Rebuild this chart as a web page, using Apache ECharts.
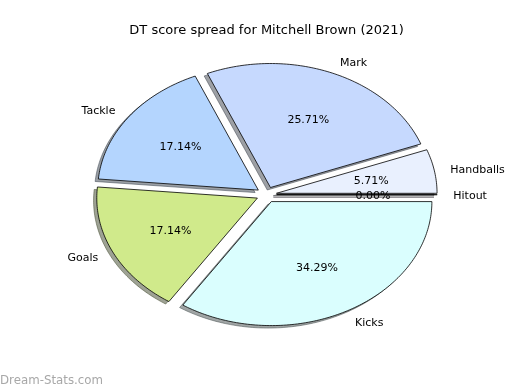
<!DOCTYPE html>
<html>
<head>
<meta charset="utf-8">
<script src="https://cdn.jsdelivr.net/npm/echarts@6/dist/echarts.min.js"></script>
<style>html,body{margin:0;padding:0;background:#fff}#c{width:520px;height:390px}</style>
</head>
<body>
<div id="c"></div>
<script>
// ---- data ----
const categories = ['Hitout', 'Handballs', 'Mark', 'Tackle', 'Goals', 'Kicks'];
const values = [0, 4, 18, 12, 12, 24];
const titleText = 'DT score spread for Mitchell Brown (2021)';
const watermark = 'Dream-Stats.com';

// ---- style ----
const colors = ['#f2e6ff', '#e9f0fe', '#c6d9fe', '#b4d5fe', '#d0ea8b', '#dafefe'];
const explode = 0.063;
const FONT = 'DejaVu Sans';

const total = values.reduce((a, b) => a + b, 0);
const starts = [];
let acc = 0;
values.forEach(v => { starts.push(acc / total * 360); acc += v; });

function hexToRgb(h) {
  const n = parseInt(h.slice(1), 16);
  return [(n >> 16) & 255, (n >> 8) & 255, n & 255];
}

function wedgePoints(api, i, dx, dy) {
  const a1 = starts[i], a2 = starts[i] + values[i] / total * 360;
  const mid = (a1 + a2) / 2 * Math.PI / 180;
  const cx = explode * Math.cos(mid) + dx, cy = explode * Math.sin(mid) + dy;
  const pts = [api.coord([cx, cy])];
  const steps = Math.max(1, Math.ceil((a2 - a1) / 1));
  for (let k = 0; k <= steps; k++) {
    const t = (a1 + (a2 - a1) * k / steps) * Math.PI / 180;
    pts.push(api.coord([cx + Math.cos(t), cy + Math.sin(t)]));
  }
  return { pts, mid, cx, cy };
}

const chart = echarts.init(document.getElementById('c'), null, { renderer: 'canvas' });
const seriesData = categories.map((c, i) => [0, 0, values[i]]);

chart.setOption({
  animation: false,
  backgroundColor: '#fff',
  grid: { left: 65.75, width: 401.5, top: 39.7, height: 310 },
  xAxis: { type: 'value', min: -1.25, max: 1.25, show: false },
  yAxis: { type: 'value', min: -1.25, max: 1.25, show: false },
  graphic: [
    { type: 'text', x: 266.5, y: 30.5, style: { text: titleText, font: '13px "' + FONT + '"', fill: '#000', align: 'center', verticalAlign: 'middle' } },
    { type: 'text', x: 0, y: 380.5, style: { text: watermark, font: '11.8px "' + FONT + '"', fill: '#a8a8a8', align: 'left', verticalAlign: 'middle' } }
  ],
  series: [
    {
      type: 'custom', coordinateSystem: 'cartesian2d', clip: false, z: 1,
      data: seriesData,
      renderItem: function (params, api) {
        const i = params.dataIndex;
        const w = wedgePoints(api, i, -0.02, -0.02);
        const rgb = hexToRgb(colors[i]).map(v => Math.round(v * 0.3));
        const col = 'rgba(' + rgb.join(',') + ',0.5)';
        return { type: 'polygon', shape: { points: w.pts }, style: { fill: col, stroke: col, lineWidth: 1 } };
      }
    },
    {
      type: 'custom', coordinateSystem: 'cartesian2d', clip: false, z: 2,
      data: seriesData,
      renderItem: function (params, api) {
        const i = params.dataIndex;
        const w = wedgePoints(api, i, 0, 0);
        return { type: 'polygon', shape: { points: w.pts }, style: { fill: colors[i], stroke: '#000', lineWidth: 0.8 } };
      }
    },
    {
      type: 'custom', coordinateSystem: 'cartesian2d', clip: false, z: 3,
      data: seriesData,
      renderItem: function (params, api) {
        const i = params.dataIndex;
        const w = wedgePoints(api, i, 0, 0);
        const lab = api.coord([w.cx + 1.1 * Math.cos(w.mid), w.cy + 1.1 * Math.sin(w.mid)]);
        const pct = api.coord([w.cx + 0.6 * Math.cos(w.mid), w.cy + 0.6 * Math.sin(w.mid)]);
        const xt = w.cx + 1.1 * Math.cos(w.mid);
        return {
          type: 'group',
          children: [
            { type: 'text', x: lab[0], y: lab[1] + 1, style: { text: categories[i], font: '11px "' + FONT + '"', fill: '#000', align: xt > 0 ? 'left' : 'right', verticalAlign: 'middle' } },
            { type: 'text', x: pct[0], y: pct[1] + 1, style: { text: (values[i] / total * 100).toFixed(2) + '%', font: '11px "' + FONT + '"', fill: '#000', align: 'center', verticalAlign: 'middle' } }
          ]
        };
      }
    }
  ]
});
</script>
</body>
</html>
